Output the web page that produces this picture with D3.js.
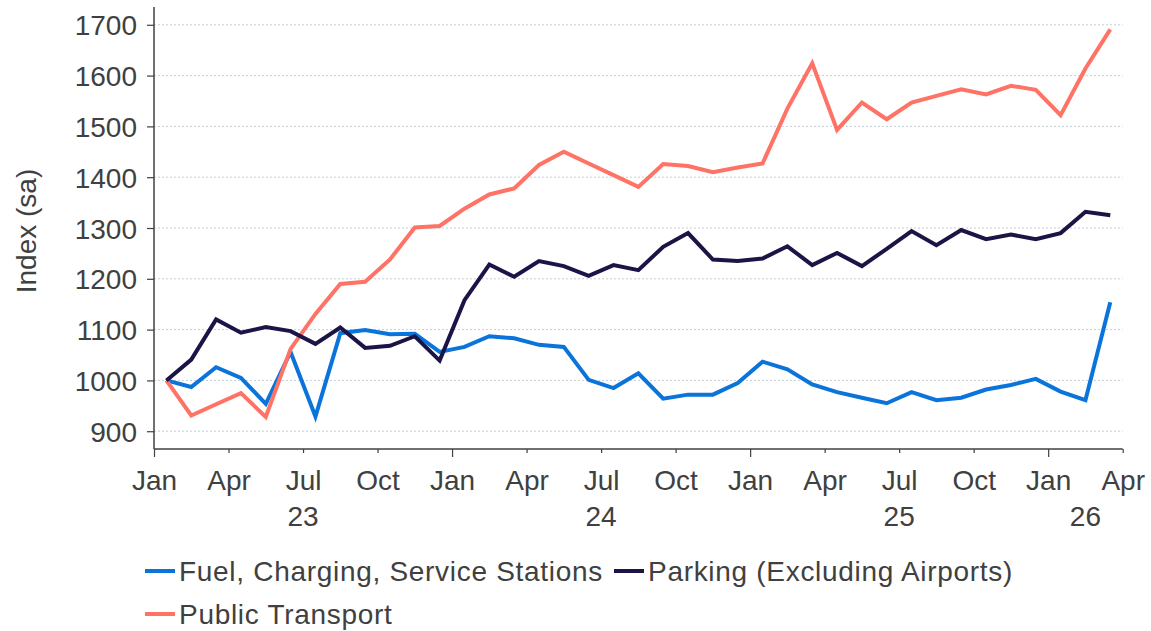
<!DOCTYPE html>
<html>
<head>
<meta charset="utf-8">
<script src="https://cdn.jsdelivr.net/npm/d3@7"></script>
<style>
  html, body { margin: 0; padding: 0; background: #fff; }
  svg { display: block; }
  text { font-family: "Liberation Sans", Arial, sans-serif; fill: #404040; }
</style>
</head>
<body>
<svg id="chart" width="1151" height="631"></svg>
<script>
// Months: Jan 2023 .. Mar 2026 (39 monthly points)
const fuel = [1000, 987, 1026, 1005, 954, 1056, 929, 1093, 1099, 1091, 1092, 1056,
              1066, 1087, 1083, 1070, 1066, 1001, 985, 1014, 964, 972, 972, 995,
              1037, 1022, 992, 977, 966, 955, 977, 961, 966, 982, 991, 1003,
              978, 961, 1154];
const parking = [1000, 1041, 1120, 1094, 1105, 1097, 1072, 1104, 1064, 1068, 1087, 1039,
                 1158, 1228, 1204, 1235, 1225, 1206, 1227, 1217, 1263, 1290, 1238, 1235,
                 1240, 1264, 1227, 1251, 1225, 1259, 1294, 1266, 1296, 1278, 1287, 1278,
                 1290, 1332, 1325];
const publicTransport = [1000, 931, 953, 975, 928, 1062, 1131, 1190, 1194, 1238, 1301, 1304,
                         1338, 1366, 1378, 1424, 1450, 1427, 1404, 1381, 1426, 1422, 1410, 1419,
                         1427, 1535, 1624, 1493, 1547, 1514, 1547, 1560, 1573, 1563, 1580, 1572,
                         1522, 1614, 1691];
const seriesNames = ["Fuel, Charging, Service Stations", "Parking (Excluding Airports)", "Public Transport"];
const seriesColors = ["#0A74DA", "#1B1446", "#FF7266"];
const monthLabels = ["Jan", "Apr", "Jul", "Oct"];
const yearLabels = ["23", "24", "25", "26"];
const yTicks = [900, 1000, 1100, 1200, 1300, 1400, 1500, 1600, 1700];
const yTitle = "Index (sa)";

(function () {
const svg = d3.select("#chart");
const pLeft = 154, pRight = 1122.7, pTop = 7, pBottom = 449;

const x = d3.scaleLinear().domain([0, 39]).range([pLeft, pRight]);
const y = d3.scaleLinear().domain([865, 1735]).range([pBottom, pTop]);

// gridlines
svg.append("g").selectAll("line").data(yTicks).join("line")
  .attr("x1", pLeft).attr("x2", pRight)
  .attr("y1", d => y(d)).attr("y2", d => y(d))
  .attr("stroke", "#c3cfd8").attr("stroke-width", 1)
  .attr("stroke-dasharray", "2,2");

// y axis
const yAxis = svg.append("g").attr("transform", `translate(${pLeft},0)`)
  .call(d3.axisLeft(y).tickValues(yTicks).tickSize(7).tickPadding(10).tickFormat(d3.format("d")));
yAxis.select(".domain").attr("stroke", "#404040").attr("stroke-width", 1.5).attr("d", `M0,${pTop}V${pBottom}`);
yAxis.selectAll(".tick line").attr("stroke", "#404040").attr("stroke-width", 1.2);
yAxis.selectAll(".tick text").attr("font-size", 28).attr("fill", "#404040")
  .attr("font-family", "Liberation Sans, Arial, sans-serif").attr("dy", "0.36em");

// x axis
const xTickVals = d3.range(0, 40, 3);
const xAxis = svg.append("g").attr("transform", `translate(0,${pBottom})`)
  .call(d3.axisBottom(x).tickValues(xTickVals).tickSize(0).tickFormat(""));
xAxis.select(".domain").attr("stroke", "#404040").attr("stroke-width", 1.5).attr("d", `M${pLeft},0H${pRight}`);
xAxis.selectAll(".tick").append("line")
  .attr("y1", 0).attr("y2", d => (d % 12 === 0) ? 8 : 4)
  .attr("stroke", "#404040").attr("stroke-width", 1.2);
xAxis.selectAll(".tick").append("text")
  .attr("y", 41).attr("text-anchor", "middle").attr("font-size", 28)
  .attr("fill", "#404040").attr("font-family", "Liberation Sans, Arial, sans-serif")
  .text(d => monthLabels[(d / 3) % 4]);

// year labels
const yearPos = [6, 18, 30, 37.5];
svg.append("g").selectAll("text").data(yearLabels).join("text")
  .attr("x", (d, i) => x(yearPos[i])).attr("y", 526)
  .attr("text-anchor", "middle").attr("font-size", 28)
  .text(d => d);

// y title
svg.append("text")
  .attr("transform", `translate(36,231) rotate(-90)`)
  .attr("text-anchor", "middle").attr("font-size", 28)
  .text(yTitle);

// lines
const allSeries = [fuel, parking, publicTransport];
const line = d3.line().x((d, i) => x(i + 0.5)).y(d => y(d));
const drawOrder = [0, 2, 1];
svg.append("g").selectAll("path").data(drawOrder).join("path")
  .attr("d", k => line(allSeries[k]))
  .attr("fill", "none").attr("stroke", k => seriesColors[k])
  .attr("stroke-width", 4).attr("stroke-linejoin", "miter");

// legend
const legendItems = [
  {k: 0, x: 145, y: 571},
  {k: 1, x: 614, y: 571},
  {k: 2, x: 145, y: 614}
];
const lg = svg.append("g").selectAll("g").data(legendItems).join("g")
  .attr("transform", d => `translate(${d.x},${d.y})`);
lg.append("line").attr("x1", 0).attr("x2", 30).attr("y1", 0).attr("y2", 0)
  .attr("stroke", d => seriesColors[d.k]).attr("stroke-width", 4);
lg.append("text").attr("x", 34).attr("y", 10).attr("font-size", 28)
  .attr("letter-spacing", "0.7px")
  .text(d => seriesNames[d.k]);
})();
</script>
</body>
</html>
